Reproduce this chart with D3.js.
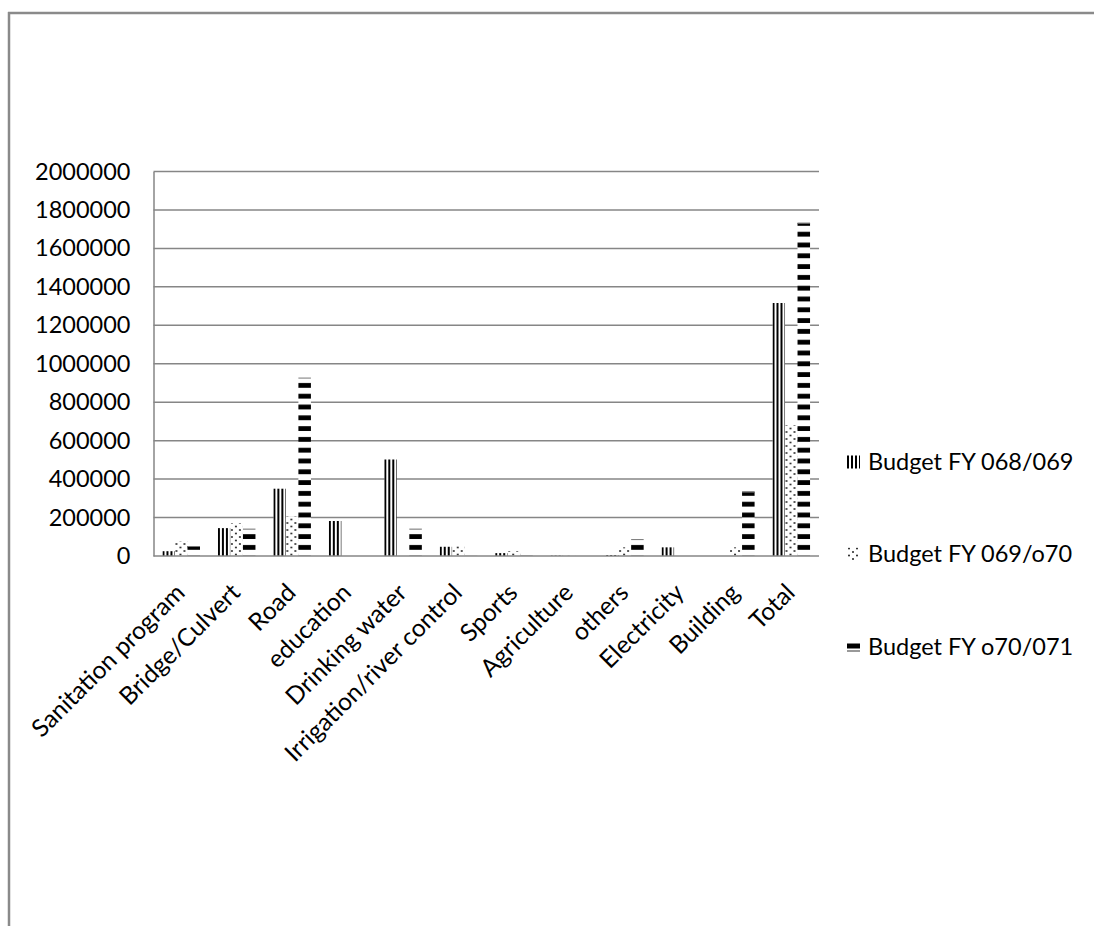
<!DOCTYPE html>
<html>
<head>
<meta charset="utf-8">
<script src="https://cdn.jsdelivr.net/npm/d3@7"></script>
<style>
  html, body { margin: 0; padding: 0; background: #fff; }
  svg { display: block; }
  text { font-family: Lato, "Open Sans", sans-serif; fill: #000; }
</style>
</head>
<body>
<svg id="chart" width="1094" height="926"></svg>
<script>
const categories = ["Sanitation program","Bridge/Culvert","Road","education","Drinking water","Irrigation/river control","Sports","Agriculture","others","Electricity","Building","Total"];
const seriesNames = ["Budget FY 068/069","Budget FY 069/o70","Budget FY o70/071"];
const budget068 = [25000,145000,350000,182000,502000,48000,15000,2000,5000,45000,0,1316000];
const budget069 = [78000,170000,205000,0,0,55000,25000,3000,45000,0,45000,680000];
const budget070 = [52000,142000,928000,0,142000,2000,5000,0,88000,0,335000,1733000];
const yTicks = [0,200000,400000,600000,800000,1000000,1200000,1400000,1600000,1800000,2000000];

(function () {
const seriesValues = [budget068, budget069, budget070];
const patternIds = ["p068","p069","p070"];

const svg = d3.select("#chart");
const defs = svg.append("defs");

// vertical stripes
const p1 = defs.append("pattern").attr("id","p068").attr("patternUnits","userSpaceOnUse").attr("width",4).attr("height",4);
p1.append("rect").attr("width",4).attr("height",4).attr("fill","#fff");
p1.append("rect").attr("x",0).attr("width",2).attr("height",4).attr("fill","#000");
// dots
const p2 = defs.append("pattern").attr("id","p069").attr("patternUnits","userSpaceOnUse").attr("width",8).attr("height",7);
p2.append("rect").attr("width",8).attr("height",7).attr("fill","#fff");
p2.append("circle").attr("cx",2).attr("cy",1.5).attr("r",1).attr("fill","#222");
p2.append("circle").attr("cx",6).attr("cy",5).attr("r",1).attr("fill","#222");
// horizontal dashes
const p3 = defs.append("pattern").attr("id","p070").attr("patternUnits","userSpaceOnUse").attr("width",4).attr("height",10.8);
p3.append("rect").attr("width",4).attr("height",10.8).attr("fill","#fff");
p3.append("rect").attr("y",5).attr("width",4).attr("height",4.8).attr("fill","#000");
// legend marker for dashes: thick bar with thin line below
const p3l = defs.append("pattern").attr("id","p070legend").attr("patternUnits","objectBoundingBox").attr("width",1).attr("height",1);
p3l.append("rect").attr("width",13).attr("height",13).attr("fill","#fff");
p3l.append("rect").attr("y",3).attr("width",13).attr("height",5).attr("fill","#000");
p3l.append("rect").attr("y",10).attr("width",13).attr("height",1).attr("fill","#333");

// outer frame (top and left visible)
svg.append("line").attr("x1",8).attr("x2",1094).attr("y1",13).attr("y2",13).attr("stroke","#8a8a8a").attr("stroke-width",2.5);
svg.append("line").attr("x1",9).attr("x2",9).attr("y1",12).attr("y2",926).attr("stroke","#8a8a8a").attr("stroke-width",2.5);

const pLeft = 153.5, pRight = 819, pTop = 171.5, pBottom = 556;
const y = d3.scaleLinear().domain([0,2000000]).range([pBottom, pTop]);
const x0 = d3.scaleBand().domain(categories).range([pLeft, pRight]).paddingInner(0.323).paddingOuter(0.1615);
const x1 = d3.scaleBand().domain(d3.range(3)).range([0, x0.bandwidth()]);

// gridlines
svg.append("g").selectAll("line").data(yTicks.filter(d => d > 0)).join("line")
  .attr("x1", pLeft).attr("x2", pRight)
  .attr("y1", d => y(d)).attr("y2", d => y(d))
  .attr("stroke", "#868686").attr("stroke-width", 1.5);

// y axis
const yAxis = d3.axisLeft(y).tickValues(yTicks).tickSize(0).tickPadding(23).tickFormat(d3.format("d"));
const gy = svg.append("g").attr("transform", `translate(${pLeft},0)`).call(yAxis);
gy.select(".domain").attr("stroke","#868686").attr("stroke-width",1.5);
gy.selectAll("text").style("font-family","Lato").style("font-size","23.5px").attr("fill","#000");

// bars
const groups = svg.append("g").selectAll("g").data(categories).join("g")
  .attr("transform", d => `translate(${x0(d)},0)`);
const barData = (c, i) => seriesValues.map((s, k) => ({k, v: s[i]}));
groups.selectAll("rect").data(barData).join("rect")
  .attr("x", d => x1(d.k))
  .attr("width", x1.bandwidth())
  .attr("y", d => y(d.v))
  .attr("height", d => pBottom - y(d.v))
  .attr("fill", d => `url(#${patternIds[d.k]})`);
// thin top edge on the dashed series
groups.selectAll("line.topedge").data((c, i) => barData(c, i).filter(d => d.k === 2 && d.v > 20000)).join("line")
  .attr("class","topedge")
  .attr("x1", d => x1(d.k)).attr("x2", d => x1(d.k) + x1.bandwidth())
  .attr("y1", d => y(d.v) + 0.5).attr("y2", d => y(d.v) + 0.5)
  .attr("stroke", "#777").attr("stroke-width", 1);

// x axis baseline
svg.append("line").attr("x1", pLeft).attr("x2", pRight).attr("y1", pBottom).attr("y2", pBottom)
  .attr("stroke","#868686").attr("stroke-width",1.5);

// x labels
svg.append("g").selectAll("text").data(categories).join("text")
  .attr("transform", d => `translate(${x0(d) + x0.bandwidth()/2 - 7},${pBottom + 26}) rotate(-45)`)
  .attr("text-anchor","end")
  .attr("dy","0.7em")
  .style("font-size","24.5px")
  .text(d => d);

// legend
const legendY = [462, 554, 647];
const legendFill = ["url(#p068)","url(#p069)","url(#p070legend)"];
const lg = svg.append("g").selectAll("g").data(seriesNames).join("g")
  .attr("transform", (d, i) => `translate(847,${legendY[i]})`);
lg.append("rect").attr("x",0).attr("y",-6.5).attr("width",13).attr("height",13)
  .attr("fill", (d, i) => legendFill[i]);
lg.append("text").attr("x",21).attr("dy","0.35em").style("font-size","23.5px").text(d => d);
})();
</script>
</body>
</html>
